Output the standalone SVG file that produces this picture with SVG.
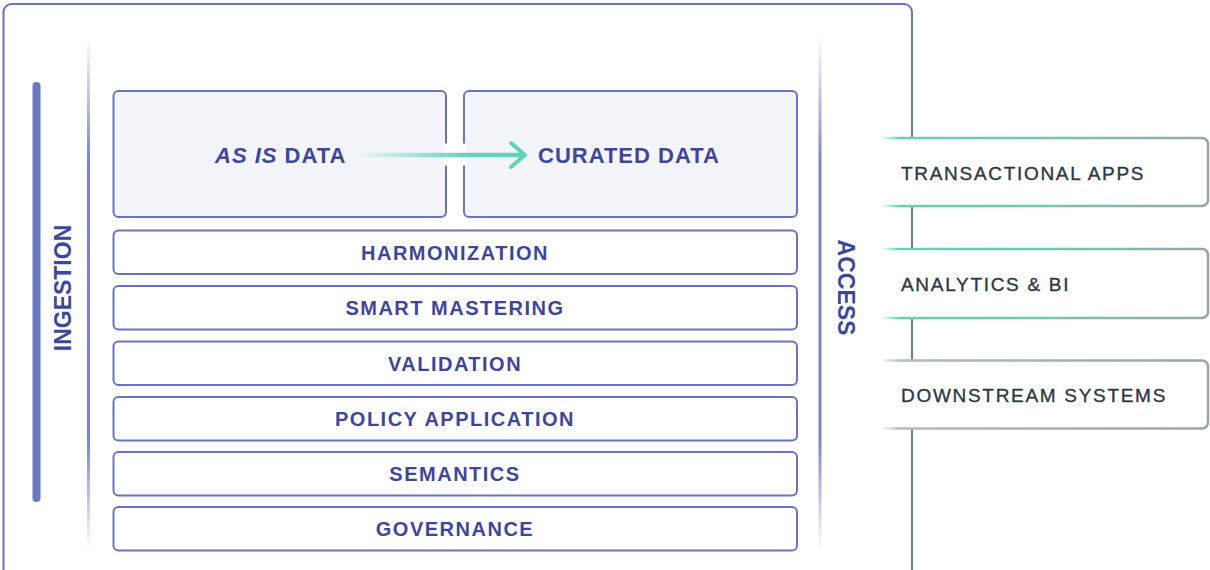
<svg xmlns="http://www.w3.org/2000/svg" width="1210" height="570" viewBox="0 0 1210 570">
<style>
.frame{fill:none;stroke:#6a74bd;stroke-width:2}
.box{fill:#ffffff;stroke:#6a74bd;stroke-width:2}
.topbox{fill:#f4f5fa;stroke:#6a74bd;stroke-width:2}
.lbl{font-family:"Liberation Sans",Arial,sans-serif;font-weight:bold;font-size:20px;letter-spacing:1.5px;fill:#3f4699;text-anchor:middle}
.big{font-family:"Liberation Sans",Arial,sans-serif;font-weight:bold;font-size:22px;letter-spacing:1px;fill:#3f4699}
.side{font-family:"Liberation Sans",Arial,sans-serif;font-weight:bold;font-size:23px;fill:#3f4699;text-anchor:middle}
.out{font-family:"Liberation Sans",Arial,sans-serif;font-size:19px;letter-spacing:1.7px;fill:#2c3740;stroke:#2c3740;stroke-width:0.35}
</style>
<defs>
<linearGradient id="vfade" gradientUnits="userSpaceOnUse" x1="0" y1="36" x2="0" y2="550">
<stop offset="0" stop-color="#6a74bd" stop-opacity="0"/>
<stop offset="0.25" stop-color="#6a74bd" stop-opacity="0.9"/>
<stop offset="0.78" stop-color="#6a74bd" stop-opacity="0.9"/>
<stop offset="1" stop-color="#6a74bd" stop-opacity="0"/>
</linearGradient>
<linearGradient id="arrowfade" gradientUnits="userSpaceOnUse" x1="353" y1="0" x2="470" y2="0">
<stop offset="0" stop-color="#5fd3b8" stop-opacity="0"/>
<stop offset="1" stop-color="#5fd3b8" stop-opacity="1"/>
</linearGradient>
<linearGradient id="tealgray" gradientUnits="userSpaceOnUse" x1="880" y1="0" x2="1210" y2="0">
<stop offset="0" stop-color="#5fd3b8" stop-opacity="0"/>
<stop offset="0.06" stop-color="#5fd3b8" stop-opacity="1"/>
<stop offset="0.4" stop-color="#6ccbb5"/>
<stop offset="1" stop-color="#9ba4a7"/>
</linearGradient>
<linearGradient id="gray" gradientUnits="userSpaceOnUse" x1="880" y1="0" x2="1210" y2="0">
<stop offset="0" stop-color="#b5bbbd" stop-opacity="0"/>
<stop offset="0.06" stop-color="#b5bbbd" stop-opacity="1"/>
<stop offset="1" stop-color="#9ba4a7"/>
</linearGradient>
</defs>

<g id="container">
<rect class="frame" x="3.5" y="4" width="908.5" height="620" rx="8"/>
</g>

<g id="ingestion">
<rect x="32.5" y="82" width="8" height="420" rx="4" fill="#6c78bd"/>
<rect x="87" y="36" width="3" height="514" fill="url(#vfade)"/>
<text class="side" transform="translate(70.5,288) rotate(-90)">INGESTION</text>
</g>

<g id="access">
<rect x="818.5" y="36" width="3" height="514" fill="url(#vfade)"/>
<text class="side" transform="translate(837.5,287.5) rotate(90)">ACCESS</text>
</g>

<g id="as-is-data">
<rect class="topbox" x="113.5" y="91" width="332.5" height="126" rx="5"/>
<text class="big" x="215" y="163"><tspan font-style="italic">AS IS</tspan> DATA</text>
</g>

<g id="curated-data">
<rect class="topbox" x="464" y="91" width="333" height="126" rx="5"/>
<text class="big" x="538" y="163">CURATED DATA</text>
</g>

<g id="harmonization">
<rect class="box" x="113.5" y="230.5" width="683.5" height="43.5" rx="5"/>
<text class="lbl" x="455" y="259.5">HARMONIZATION</text>
</g>
<g id="smart-mastering">
<rect class="box" x="113.5" y="286" width="683.5" height="43.5" rx="5"/>
<text class="lbl" x="455" y="315">SMART MASTERING</text>
</g>
<g id="validation">
<rect class="box" x="113.5" y="341.5" width="683.5" height="43.5" rx="5"/>
<text class="lbl" x="455" y="370.5">VALIDATION</text>
</g>
<g id="policy-application">
<rect class="box" x="113.5" y="397" width="683.5" height="43.5" rx="5"/>
<text class="lbl" x="455" y="426">POLICY APPLICATION</text>
</g>
<g id="semantics">
<rect class="box" x="113.5" y="452" width="683.5" height="43.5" rx="5"/>
<text class="lbl" x="455" y="481">SEMANTICS</text>
</g>
<g id="governance">
<rect class="box" x="113.5" y="507" width="683.5" height="43.5" rx="5"/>
<text class="lbl" x="455" y="536">GOVERNANCE</text>
</g>

<g id="transactional-apps">
<rect x="883" y="138" width="325" height="68" fill="#ffffff"/>
<path d="M883,138 H1202 A6,6 0 0 1 1208,144 V200 A6,6 0 0 1 1202,206 H883" fill="none" stroke="url(#tealgray)" stroke-width="2.5"/>
<text class="out" x="901" y="180">TRANSACTIONAL APPS</text>
</g>
<g id="analytics-bi">
<rect x="883" y="249" width="325" height="69" fill="#ffffff"/>
<path d="M883,249 H1202 A6,6 0 0 1 1208,255 V312 A6,6 0 0 1 1202,318 H883" fill="none" stroke="url(#tealgray)" stroke-width="2.5"/>
<text class="out" x="901" y="291">ANALYTICS &amp; BI</text>
</g>
<g id="downstream-systems">
<rect x="883" y="360.5" width="325" height="68" fill="#ffffff"/>
<path d="M883,360.5 H1202 A6,6 0 0 1 1208,366.5 V422.5 A6,6 0 0 1 1202,428.5 H883" fill="none" stroke="url(#gray)" stroke-width="2.5"/>
<text class="out" x="901" y="402">DOWNSTREAM SYSTEMS</text>
</g>

<g id="connectors">
<rect x="444" y="143.5" width="22" height="22" fill="#ffffff"/>
<line x1="353" y1="155" x2="523" y2="155" stroke="url(#arrowfade)" stroke-width="4.5"/>
<polyline points="511,143 525,155 511,167" fill="none" stroke="#5fd3b8" stroke-width="4" stroke-linecap="round" stroke-linejoin="round"/>
</g>
</svg>
